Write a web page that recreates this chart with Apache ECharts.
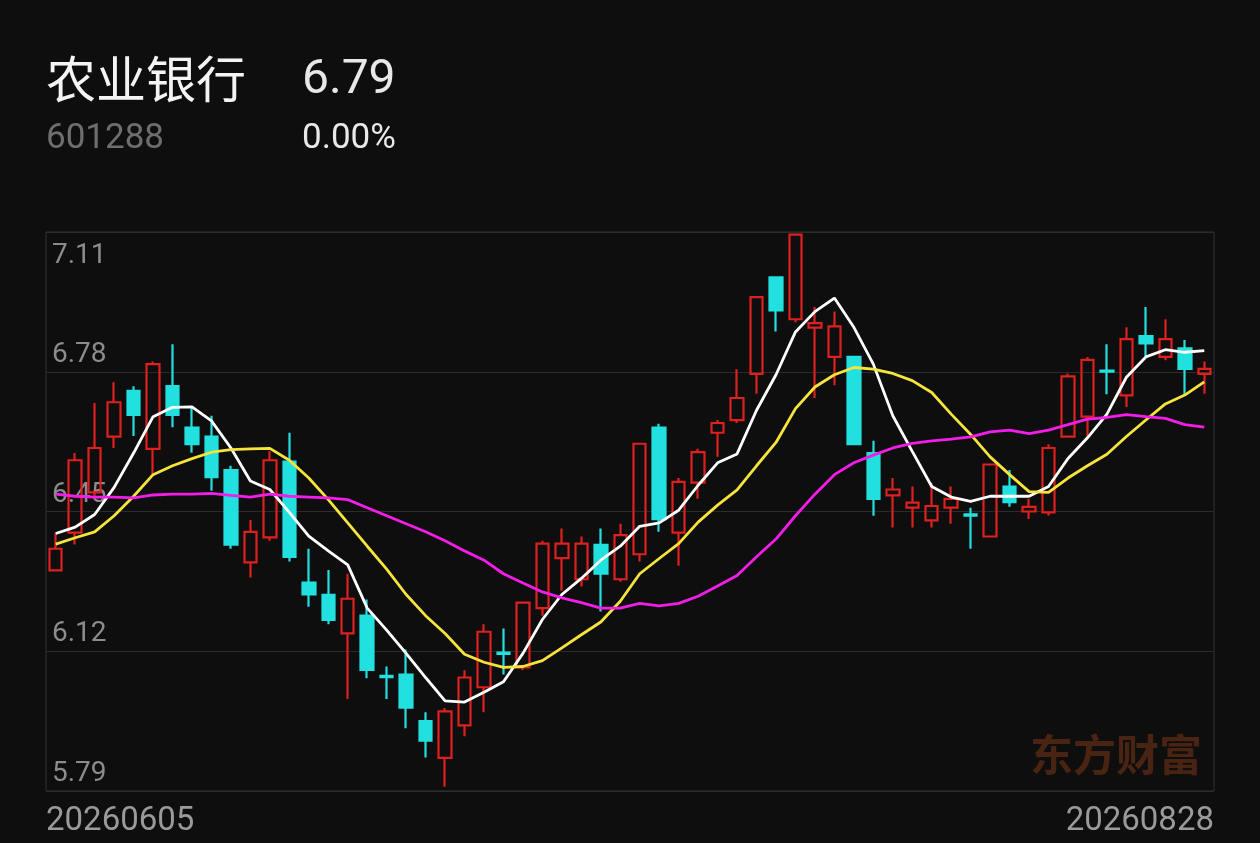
<!DOCTYPE html>
<html>
<head>
<meta charset="utf-8">
<script src="https://cdn.jsdelivr.net/npm/echarts@6/dist/echarts.min.js"></script>
<style>
html,body{margin:0;padding:0;background:#0e0e0e;}
#c{width:1260px;height:843px;}
</style>
</head>
<body>
<div id="c"></div>
<script>
const stockName = '农业银行';
const stockCode = '601288';
const lastPrice = '6.79';
const changePct = '0.00%';
const watermark = '东方财富';

const dates = [
  '20260605','20260608','20260609','20260610','20260611','20260612',
  '20260615','20260616','20260617','20260618','20260622','20260623',
  '20260624','20260625','20260626','20260629','20260630',
  '20260701','20260702','20260703','20260706','20260707','20260708',
  '20260709','20260710','20260713','20260714','20260715','20260716',
  '20260717','20260720','20260721','20260722','20260723','20260724',
  '20260727','20260728','20260729','20260730','20260731',
  '20260803','20260804','20260805','20260806','20260807','20260810',
  '20260811','20260812','20260813','20260814','20260817','20260818',
  '20260819','20260820','20260821','20260824','20260825','20260826',
  '20260827','20260828'
];

const opens = [6.311,6.400,6.495,6.627,6.735,6.598,6.746,6.648,6.627,6.548,
  6.330,6.389,6.568,6.282,6.253,6.162,6.204,6.062,6.065,5.955,
  5.868,5.945,6.035,6.117,6.082,6.222,6.340,6.290,6.371,6.290,
  6.349,6.648,6.400,6.518,6.636,6.666,6.775,7.003,6.904,6.884,
  6.815,6.815,6.588,6.488,6.459,6.429,6.459,6.443,6.391,6.509,
  6.450,6.448,6.627,6.674,6.783,6.724,6.864,6.815,6.835,6.775];
const closes = [6.362,6.571,6.600,6.708,6.678,6.798,6.678,6.609,6.531,6.372,
  6.402,6.571,6.343,6.254,6.194,6.244,6.076,6.059,5.987,5.909,
  5.978,6.058,6.166,6.114,6.235,6.374,6.374,6.374,6.303,6.394,
  6.610,6.432,6.520,6.590,6.659,6.718,6.956,6.925,7.104,6.895,
  6.887,6.609,6.480,6.502,6.471,6.463,6.480,6.440,6.561,6.472,
  6.461,6.600,6.769,6.808,6.780,6.857,6.847,6.857,6.787,6.787];
const lows = [6.311,6.372,6.480,6.600,6.628,6.533,6.649,6.589,6.499,6.362,
  6.294,6.381,6.332,6.225,6.184,6.007,6.056,6.007,5.938,5.869,
  5.800,5.919,5.976,6.065,6.076,6.204,6.263,6.273,6.214,6.284,
  6.332,6.402,6.322,6.480,6.579,6.659,6.728,6.875,6.897,6.718,
  6.748,6.609,6.440,6.412,6.412,6.412,6.421,6.362,6.391,6.461,
  6.432,6.440,6.627,6.627,6.727,6.697,6.815,6.807,6.727,6.728];
const highs = [6.400,6.588,6.706,6.755,6.746,6.804,6.845,6.697,6.676,6.558,
  6.430,6.592,6.636,6.362,6.312,6.303,6.242,6.084,6.124,5.976,
  5.986,6.075,6.184,6.174,6.237,6.381,6.410,6.391,6.410,6.421,
  6.612,6.657,6.529,6.598,6.666,6.786,6.958,7.004,7.105,6.933,
  6.922,6.815,6.617,6.529,6.509,6.518,6.509,6.459,6.561,6.548,
  6.480,6.609,6.776,6.815,6.845,6.885,6.933,6.904,6.855,6.804];

const ma5 = [6.398,6.413,6.443,6.507,6.588,6.674,6.696,6.697,6.664,6.600,
  6.522,6.502,6.448,6.392,6.357,6.324,6.222,6.170,6.115,6.058,
  6.003,6.000,6.023,6.048,6.115,6.195,6.254,6.292,6.335,6.368,
  6.415,6.423,6.453,6.512,6.565,6.586,6.689,6.773,6.874,6.922,
  6.954,6.885,6.798,6.676,6.592,6.509,6.484,6.474,6.486,6.486,
  6.486,6.509,6.575,6.624,6.680,6.767,6.815,6.832,6.826,6.830];
const ma10 = [6.373,6.388,6.402,6.440,6.486,6.537,6.558,6.575,6.590,6.596,
  6.598,6.599,6.571,6.529,6.478,6.423,6.368,6.314,6.254,6.204,
  6.162,6.113,6.094,6.082,6.084,6.098,6.128,6.159,6.189,6.238,
  6.303,6.339,6.374,6.425,6.465,6.501,6.558,6.613,6.693,6.744,
  6.773,6.790,6.786,6.776,6.759,6.731,6.680,6.632,6.579,6.537,
  6.497,6.495,6.529,6.558,6.585,6.627,6.666,6.704,6.725,6.756];
const ma20 = [6.491,6.486,6.484,6.484,6.482,6.489,6.491,6.491,6.493,6.488,
  6.484,6.491,6.486,6.484,6.482,6.478,6.459,6.440,6.421,6.402,
  6.381,6.357,6.335,6.303,6.281,6.260,6.246,6.235,6.222,6.222,
  6.233,6.227,6.233,6.250,6.274,6.299,6.343,6.385,6.440,6.491,
  6.537,6.565,6.583,6.600,6.611,6.617,6.621,6.626,6.638,6.642,
  6.634,6.642,6.655,6.668,6.672,6.679,6.674,6.670,6.655,6.649];

const yMin = 5.79, yMax = 7.11, yStep = 0.33;

const UP = '#de201e';
const DOWN = '#22e0e0';
const candleData = dates.map((d, i) => [opens[i], closes[i], lows[i], highs[i]]);

const chart = echarts.init(document.getElementById('c'), null, {renderer: 'canvas'});
const last = dates.length - 1;

chart.setOption({
  backgroundColor: '#0e0e0e',
  animation: false,
  grid: {left: 46, right: 46, top: 232, bottom: 52, show: true,
         borderColor: '#333333', borderWidth: 1, backgroundColor: 'transparent'},
  xAxis: [
    {type: 'category', data: dates, boundaryGap: true,
     axisLine: {show: false}, axisTick: {show: false}, axisLabel: {show: false}, splitLine: {show: false}},
    {type: 'category', data: dates, boundaryGap: false, position: 'bottom',
     axisLine: {show: false}, axisTick: {show: false}, splitLine: {show: false},
     axisLabel: {
       interval: (idx) => idx === 0 || idx === last,
       alignMinLabel: 'left', alignMaxLabel: 'right',
       color: '#9a9a9a', fontSize: 33, fontFamily: 'Roboto', margin: 14
     }}
  ],
  yAxis: {
    type: 'value', min: yMin, max: yMax, interval: yStep, position: 'left',
    axisLine: {show: false}, axisTick: {show: false},
    splitLine: {show: true, lineStyle: {color: '#2b2b2b', width: 1}},
    axisLabel: {
      inside: true, margin: 6, verticalAlign: 'bottom', verticalAlignMaxLabel: 'top',
      color: '#8c8c8c', fontSize: 28, fontFamily: 'Roboto', padding: [10, 0, 3, 0],
      formatter: (v) => v.toFixed(2)
    }
  },
  graphic: [
    {type: 'text', left: 1030, top: 733, z: 0, silent: true,
     style: {text: watermark, fill: '#4a2412', font: 'bold 43px "Noto Sans CJK SC"'}},
    {type: 'text', x: 46, y: 79, style: {text: stockName, fill: '#f4f4f4',
      font: '50px "Noto Sans CJK SC"', verticalAlign: 'middle', align: 'left'}},
    {type: 'text', x: 302, y: 81, style: {text: lastPrice, fill: '#e8e8e8',
      font: '48px Roboto', verticalAlign: 'middle', align: 'left'}},
    {type: 'text', x: 46, y: 139, style: {text: stockCode, fill: '#6e6e6e',
      font: '35px Roboto', verticalAlign: 'middle', align: 'left'}},
    {type: 'text', x: 302, y: 139, style: {text: changePct, fill: '#e8e8e8',
      font: '35px Roboto', verticalAlign: 'middle', align: 'left'}}
  ],
  series: [
    {type: 'candlestick', data: candleData, barWidth: 13, z: 2,
     itemStyle: {color: 'transparent', color0: DOWN, borderColor: UP, borderColor0: DOWN, borderWidth: 2.2}},
    {type: 'line', data: ma5, symbol: 'none', z: 3, lineStyle: {color: '#ffffff', width: 2.8}},
    {type: 'line', data: ma10, symbol: 'none', z: 3, lineStyle: {color: '#f6e43c', width: 2.8}},
    {type: 'line', data: ma20, symbol: 'none', z: 3, lineStyle: {color: '#f31de8', width: 2.8}}
  ]
});
</script>
</body>
</html>
